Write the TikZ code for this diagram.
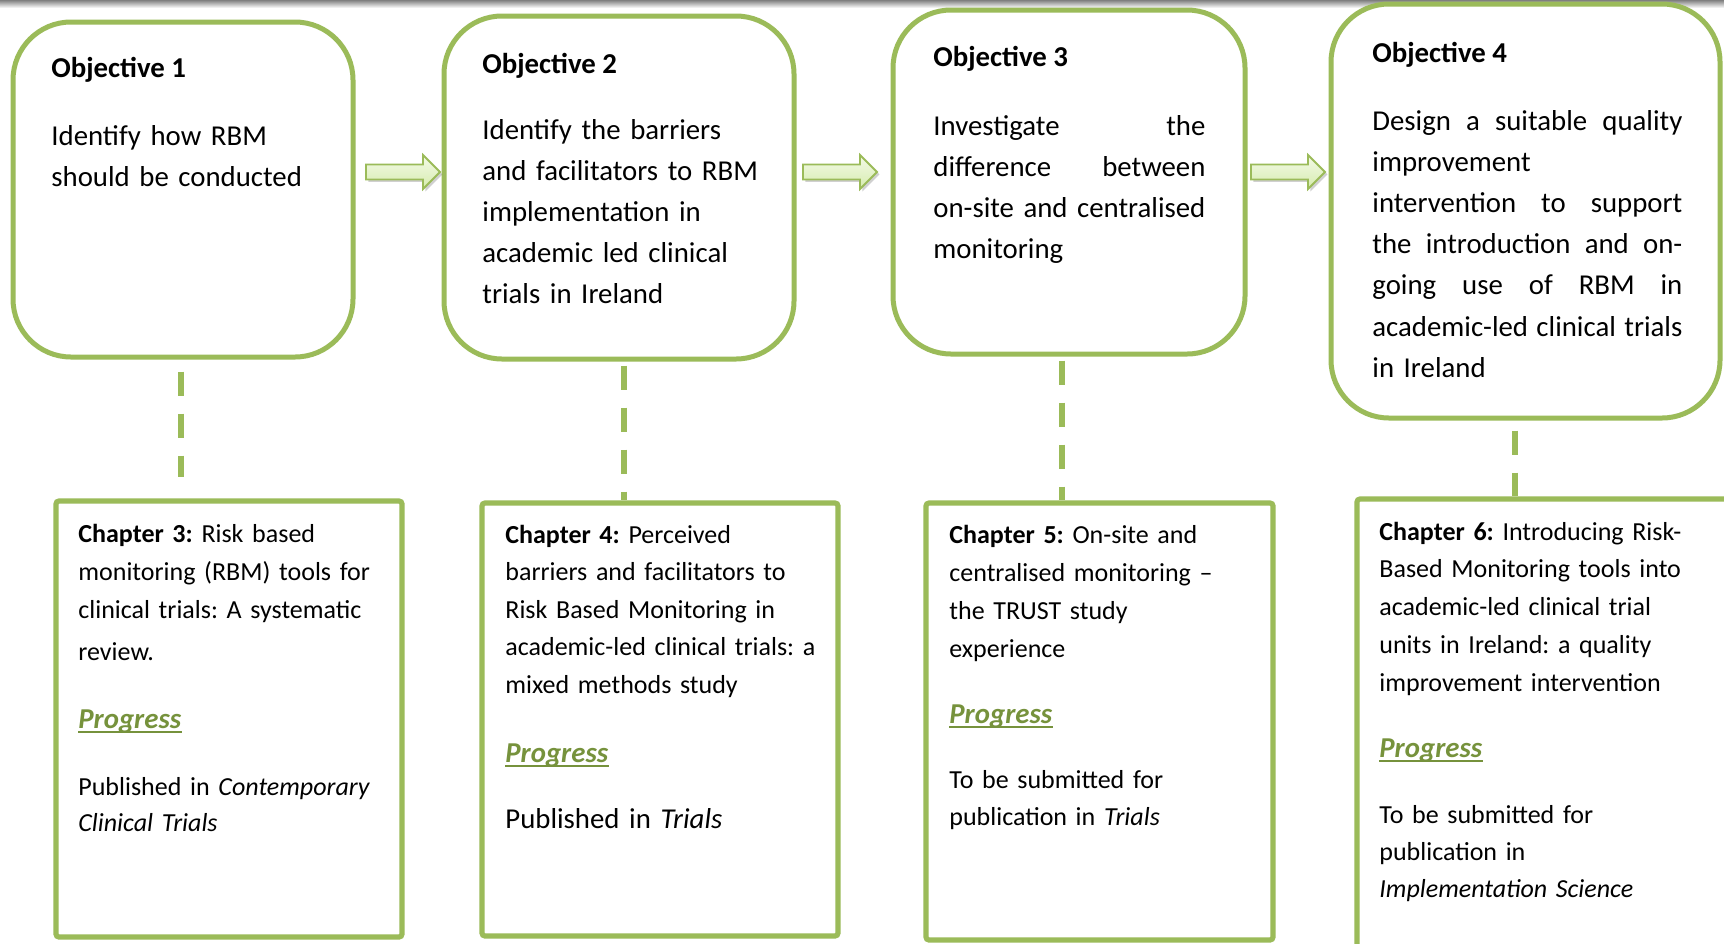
\documentclass[tikz,border=0pt]{standalone}
\usepackage{fontspec}
\setmainfont{Carlito}
\usetikzlibrary{fit,shadows}
\frenchspacing

\definecolor{boxgreen}{HTML}{9BBB59}
\definecolor{progreen}{HTML}{76923C}
\definecolor{arrowtop}{HTML}{F4FAE8}
\definecolor{arrowbot}{HTML}{D6ECAE}

% a line spread to a given width
\newcommand{\jline}[2]{{\spaceskip=0pt\xspaceskip=0pt\relax\makebox[#1][s]{#2}}}

\tikzset{
  objbox/.style={draw=boxgreen, line width=2.5pt, rounded corners=29pt, fill=white, inner sep=0pt},
  chapbox/.style={draw=boxgreen, line width=2.6pt, rounded corners=1.5pt, fill=white, inner sep=0pt},
  objtitle/.style={anchor=base west, inner sep=0pt, font=\fontsize{14.4}{20.6}\selectfont\bfseries},
  objtext/.style={anchor=base west, inner sep=0pt, text width=220pt,
                  font=\fontsize{14.4}{20.6}\selectfont},
  chaptext/.style={anchor=base west, inner sep=0pt, text width=220pt,
                   font=\fontsize{13}{#1}\selectfont},
  chaptext/.default=18.75pt,
  bigtext/.style={anchor=base west, inner sep=0pt, text width=220pt,
                  font=\fontsize{14.4}{18.5}\selectfont},
  progtext/.style={anchor=base west, inner sep=0pt, text=progreen,
                   font=\fontsize{14.4}{17}\selectfont\bfseries\itshape},
  progline/.style={draw=progreen, line width=1.4pt},
  linkline/.style={draw=boxgreen, line width=3pt, dash pattern=on 12pt off 9pt},
  blockarrow/.style={draw=boxgreen, line width=0.9pt, line join=miter,
                     top color=arrowtop, bottom color=arrowbot,
                     drop shadow={shadow xshift=1.2pt, shadow yshift=-1.2pt, opacity=0.3, fill=black!60}},
}

\begin{document}
\begin{tikzpicture}[x=0.5pt, y=-0.5pt]
  \clip (0,0) rectangle (1724,943);
  \fill[white] (0,0) rectangle (1724,943);
  % thin grey band along the top edge
  \shade[top color=black!50, bottom color=white] (0,0) rectangle (1724,8);

  % objective boxes
  \node[objbox, fit={(13,22) (353,357)}]   (o1) {};
  \node[objbox, fit={(444,16) (794,359)}]  (o2) {};
  \node[objbox, fit={(893,10) (1245,354)}] (o3) {};
  \node[objbox, fit={(1331,4) (1720,418)}] (o4) {};

  % chapter boxes
  \node[chapbox, fit={(56,501) (402,937)}]    (c3) {};
  \node[chapbox, fit={(482,503) (838,936)}]   (c4) {};
  \node[chapbox, fit={(926,503) (1273,940)}]  (c5) {};
  \node[chapbox, fit={(1357,499) (1790,990)}] (c6) {};

  % dashed links from objectives to chapters
  \coordinate (k1) at (181,0);
  \coordinate (k2) at (624,0);
  \coordinate (k3) at (1062,0);
  \coordinate (k4) at (1515,0);
  \coordinate (e1) at (181,477);
  \draw[linkline, dash phase=15pt] (o1.south -| k1) -- (e1);
  \draw[linkline, dash phase=19pt] (o2.south -| k2) -- (c4.north -| k2);
  \draw[linkline, dash phase=19pt] (o3.south -| k3) -- (c5.north -| k3);
  \draw[linkline, dash phase=16pt] (o4.south -| k4) -- (c6.north -| k4);

  % block arrows between objectives
  \coordinate (a1) at (366,172);
  \coordinate (a2) at (803,172);
  \coordinate (a3) at (1251,172);
  \foreach \a in {a1,a2,a3}
    \draw[blockarrow] (\a) ++(0,-7.5) -- ++(57,0) -- ++(0,-9.5) -- ++(17,17)
      -- ++(-17,17) -- ++(0,-9.5) -- ++(-57,0) -- cycle;

  % objective texts
  \node[objtitle] (o1t) at (51,77) {Objective 1};
  \node[objtext] (o1b) at (51,145) {Identify how RBM\\ should be conducted};

  \node[objtitle] (o2t) at (482,73) {Objective 2};
  \node[objtext] (o2b) at (482,139) {Identify the barriers\\ and facilitators to RBM\\
    implementation in\\ academic led clinical\\ trials in Ireland};

  \node[objtitle] (o3t) at (933,66) {Objective 3};
  \node[objtext] (o3b) at (933,135) {\jline{136pt}{Investigate the}\\
    \jline{136pt}{difference between}\\
    \jline{136pt}{on-site and centralised}\\
    monitoring};

  \node[objtitle] (o4t) at (1372,62) {Objective 4};
  \node[objtext] (o4b) at (1372,130) {\jline{155pt}{Design a suitable quality}\\
    improvement\\
    \jline{155pt}{intervention to support}\\
    \jline{155pt}{the introduction and on-}\\
    \jline{155pt}{going use of RBM in}\\
    \jline{155pt}{academic-led clinical trials}\\
    in Ireland};

  % chapter 3
  \node[chaptext=19pt] (c3t) at (78,542) {\textbf{Chapter 3:} Risk based\\
    monitoring (RBM) tools for\\ clinical trials: A systematic\\[2pt] review.};
  \node[progtext] (c3p) at (78,728) {Progress};
  \draw[progline] ([yshift=-2pt]c3p.base west) -- ([yshift=-2pt]c3p.base east);
  \node[chaptext=18pt] (c3s) at (78,795) {Published in \textit{Contemporary}\\ \textit{Clinical Trials}};

  % chapter 4
  \node[chaptext] (c4t) at (505,543) {\textbf{Chapter 4:} Perceived\\
    barriers and facilitators to\\ Risk Based Monitoring in\\
    academic-led clinical trials: a\\ mixed methods study};
  \node[progtext] (c4p) at (505,762) {Progress};
  \draw[progline] ([yshift=-2pt]c4p.base west) -- ([yshift=-2pt]c4p.base east);
  \node[bigtext] (c4s) at (505,828) {Published in \textit{Trials}};

  % chapter 5
  \node[chaptext=19pt] (c5t) at (949,543) {\textbf{Chapter 5:} On-site and\\
    centralised monitoring --\\ the TRUST study\\ experience};
  \node[progtext] (c5p) at (949,723) {Progress};
  \draw[progline] ([yshift=-2pt]c5p.base west) -- ([yshift=-2pt]c5p.base east);
  \node[chaptext=18.5pt] (c5s) at (949,788) {To be submitted for\\ publication in \textit{Trials}};

  % chapter 6
  \node[chaptext=18.875pt] (c6t) at (1379,540) {\textbf{Chapter 6:} Introducing Risk-\\
    Based Monitoring tools into\\ academic-led clinical trial\\
    units in Ireland: a quality\\ improvement intervention};
  \node[progtext] (c6p) at (1379,757) {Progress};
  \draw[progline] ([yshift=-2pt]c6p.base west) -- ([yshift=-2pt]c6p.base east);
  \node[chaptext=18.5pt] (c6s) at (1379,823) {To be submitted for\\ publication in\\
    \textit{Implementation Science}};
\end{tikzpicture}
\end{document}
